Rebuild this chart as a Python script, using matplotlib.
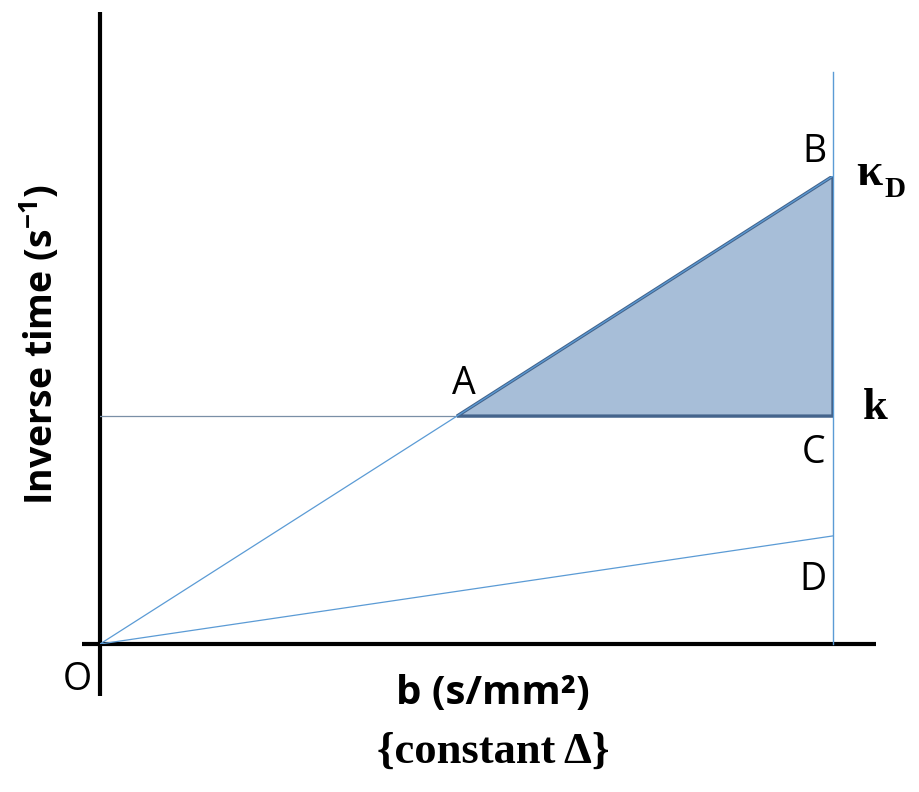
import matplotlib.pyplot as plt
from matplotlib.patches import Polygon

plt.rcParams["mathtext.fontset"] = "custom"
plt.rcParams["mathtext.rm"] = "Open Sans:bold"
plt.rcParams["mathtext.default"] = "rm"

# diagram values (b normalised so the vertical line sits at b = 1, kD = 1)
b_max = 1.0
kappa_d = 1.0
k_level = 0.487
d_level = 0.231
a_b = k_level / kappa_d * b_max

point_labels = ["A", "B", "C", "D", "O"]

fig = plt.figure(figsize=(9.19, 7.92), dpi=100)
ax = fig.add_axes([100 / 919, 148 / 792, 733 / 919, 468 / 792])
ax.set_xlim(0, b_max)
ax.set_ylim(0, kappa_d)
ax.axis("off")

thin = "#5B9BD5"
edge = "#44648C"
fill = "#A7BED8"

# axes
ax.plot([0, 0], [-0.111, 1.35], color="black", lw=3.0, clip_on=False, solid_capstyle="butt")
ax.plot([-0.025, 1.059], [0, 0], color="black", lw=3.0, clip_on=False, solid_capstyle="butt")

# vertical line at b max
ax.plot([b_max, b_max], [0, 1.222], color=thin, lw=1.0, clip_on=False)

# shaded triangle A-B-C
tri = Polygon([[a_b, k_level], [b_max, kappa_d], [b_max, k_level]], closed=True,
              facecolor=fill, edgecolor=edge, lw=2.4, joinstyle="miter", zorder=3)
ax.add_patch(tri)

# thin lines from origin
ax.plot([0, b_max], [0, kappa_d], color=thin, lw=0.9, zorder=4)
ax.plot([0, b_max], [0, d_level], color=thin, lw=0.9)
ax.plot([0, a_b], [k_level, k_level], color="#7A8FA6", lw=0.9)

lab = dict(fontsize=27, family="Open Sans", ha="center", va="center")
ax.text(a_b + 0.01, k_level + 0.068, point_labels[0], **lab)
ax.text(b_max - 0.025, kappa_d + 0.052, point_labels[1], **lab)
ax.text(b_max - 0.027, k_level - 0.079, point_labels[2], **lab)
ax.text(b_max - 0.027, d_level - 0.095, point_labels[3], **lab)
ax.text(-0.031, -0.077, point_labels[4], **lab)

serif = dict(family="Liberation Serif", fontweight="bold", ha="center", va="center")
ax.text(1.058, k_level + 0.018, "k", fontsize=32, **serif)
ax.text(1.05, kappa_d + 0.005, "κ", fontsize=34, **serif)
ax.text(1.084, kappa_d - 0.028, "D", fontsize=21, **serif)

fig.text(493 / 919, 1 - 694 / 792, "b (s/mm²)", fontsize=29, family="Open Sans",
         fontweight="bold", ha="center", va="center")
fig.text(493 / 919, 1 - 752 / 792, "{constant Δ}", fontsize=32, ha="center", va="center",
         family="Liberation Serif", fontweight="bold")
fig.text(40 / 919, 1 - 345 / 792, "Inverse time (s$^{-1}$)", fontsize=27, family="Open Sans",
         fontweight="bold", rotation=90, ha="center", va="center")

fig.savefig("out.png", dpi=100, facecolor="white")
